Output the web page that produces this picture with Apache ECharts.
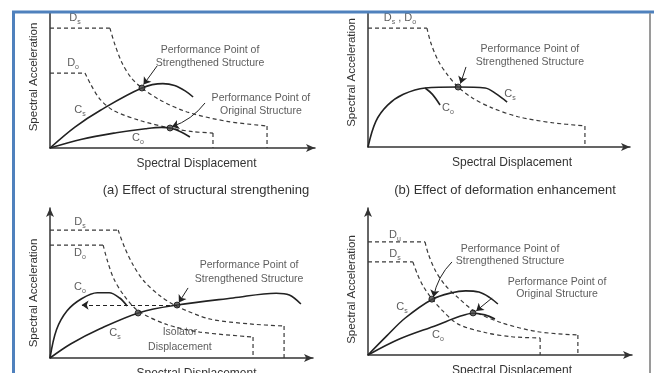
<!DOCTYPE html>
<html>
<head>
<meta charset="utf-8">
<script src="https://cdn.jsdelivr.net/npm/echarts/dist/echarts.min.js"></script>
<style>
html,body{margin:0;padding:0;background:#fff}
#main{width:654px;height:373px}
</style>
</head>
<body>
<div id="main"></div>
<script>
// all panels: x = spectral displacement 0-100, y = spectral acceleration 0-100 (schematic units)

// (a) structural strengthening
var aDemandS = [[22.6,88.2],[24.5,76],[27.2,62.5],[30.5,52],[34.7,44.1],[41.5,35.3],[51.7,26.5],[66.8,19.6],[81.9,16.2]]
var aDemandO = [[13.2,55.1],[15.3,47],[18.9,35.8],[24,27.5],[34,20.2],[45.3,14.7],[54,12],[61.5,11]]
var aCapS = [[0,0],[9.4,15.4],[18.9,27.6],[34.7,44.1],[42.6,47.3],[47,46],[51,42],[54,37.5]]
var aCapO = [[0,0],[12,6.5],[25,11.2],[36,14.2],[42,15.2],[46,14.4],[49.5,11.8],[52.8,8.1]]
var aPoints = [[34.7,44.1],[45.3,14.7]]
var aArrows = [[[40.4,60.3],[35.3,46.6]],[[58.5,33.1],[46,15.6]]]
var aBend = [0, 0.15]
var aLabels = [[9.4,95.6,'D_s'],[8.7,62.5,'D_o'],[11.3,27.9,'C_s'],[33.2,7.4,'C_o']]
var aNotes = [[60.4,67.3,'Performance Point of\nStrengthened Structure'],[79.6,31.6,'Performance Point of\nOriginal Structure']]

// (b) deformation enhancement
var bDemand = [[22.5,88.1],[24,77],[26.9,63.5],[30.5,53],[34.4,44.4],[39.7,36.5],[47.3,29],[57.3,22.4],[70.2,18],[82.8,15.6]]
var bCapS = [[0,0],[3,19],[7.5,31],[13.5,39],[21.8,43.7],[34.4,44.4],[44.7,43.7],[48.8,39.5],[53.1,33.3]]
var bCapO = [[21.8,43.7],[24.6,39],[27.5,31.1]]
var bPoints = [[34.4,44.4]]
var bArrows = [[[37.4,59.3],[35.3,47]]]
var bBend = [0]
var bLabels = [[12.2,95.6,'D_s , D_o'],[54.2,39.3,'C_s'],[30.5,28.9,'C_o']]
var bNotes = [[61.8,67.4,'Performance Point of\nStrengthened Structure']]

// (c) isolation
var cDemandS = [[25.9,85.3],[28.3,74],[31.6,62],[35.6,51.5],[41.8,41.5],[48.3,34.4],[60.8,26],[76,22.7],[89,21.3]]
var cDemandO = [[20.2,75.3],[21.8,65],[24.2,53],[28,42],[33.5,31.5],[44.5,22.3],[57,17.3],[77.2,14]]
var cCapO = [[0,0],[2.5,19],[6.5,31.5],[12,39.5],[18,43.5],[22.5,43.5],[26.5,40],[29.3,34.7]]
var cCapS = [[0,0],[8,9.5],[19,19.5],[34.2,30.4],[48.3,35.3],[69.6,40],[86,43.2],[91,42],[95.4,36]]
var cPoints = [[48.3,35.3],[33.5,30]]
var cArrows = [[[52.5,46.7],[49,37]]]
var cBend = [0]
var cShift = [[48.3,35.3],[12,35.3]]
var cLabels = [[11.4,90.7,'D_s'],[11.4,70,'D_o'],[11.4,47.3,'C_o'],[24.7,16.7,'C_s']]
var cNotes = [[75.7,57.3,'Performance Point of\nStrengthened Structure']]
var cIso = [[49.4,12,'Isolator\nDisplacement']]

// (d) combined
var dDemandU = [[21.6,76.9],[22.8,69],[25.5,57.5],[29.2,47.6],[34.1,39],[40.5,29.6],[50.8,21.8],[64.4,15.8],[79.5,13.6]]
var dDemandS = [[17,63.3],[18.6,55.5],[21,46.5],[24.2,38.3],[28.3,30],[34.1,21],[44.3,15.3],[54.5,12.4],[65.2,11.6]]
var dCapS = [[0,0],[7,12.8],[14,25],[24.2,37.8],[31.8,42.4],[37,43.6],[42,42.8],[46,39.2],[49.2,34.7]]
var dCapO = [[0,0],[12.1,11],[26.1,20.3],[34.8,26.3],[39.8,28.4],[44.3,27.3],[48.1,24.5]]
var dPoints = [[24.2,38],[39.8,28.6]]
var dArrows = [[[31.8,63.3],[24.8,39.5]],[[47,38.8],[41,30]]]
var dBend = [-0.15, 0]
var dLabels = [[10.2,81.6,'D_u'],[10.2,68.5,'D_s'],[12.9,32.7,'C_s'],[26.5,13.6,'C_o']]
var dNotes = [[53.8,68,'Performance Point of\nStrengthened Structure'],[71.6,45.6,'Performance Point of\nOriginal Structure']]

var captions = ['(a) Effect of structural strengthening', '(b) Effect of deformation enhancement']

var ink = '#222'
var txt = '#333'
var font = 'Liberation Sans, Arial, sans-serif'

var grids = [
	{left:50, top:12, width:265, height:136},
	{left:368, top:12, width:262, height:135},
	{left:50, top:208, width:263, height:150},
	{left:368, top:208, width:264, height:147}
]
var xNamePad = [28, 26, 30, 24]
var yNamePad = [[0,0,0,6],[0,0,0,14],[0,20,0,0],[0,16,0,0]]

function toRich(t){
	var parts = t.split(/_(\w)/)
	var out = ''
	for (var i = 0; i < parts.length; i++) {
		if (parts[i] === '') continue
		out += (i % 2 ? '{s|' : '{m|') + parts[i] + '}'
	}
	return out
}

var series = []

function solid(gi, pts){
	series.push({type:'line', xAxisIndex:gi, yAxisIndex:gi, data:pts, smooth:0.35,
		symbol:'none', silent:true, lineStyle:{color:ink, width:1.6}, z:3})
}
function demand(gi, pts){   // plateau + curve + drop to axis
	var first = pts[0], last = pts[pts.length-1]
	var st = {color:'#3a3a3a', width:1.2, type:[4,3]}
	series.push({type:'line', xAxisIndex:gi, yAxisIndex:gi, data:[[0,first[1]],first], symbol:'none', silent:true, lineStyle:st, z:2})
	series.push({type:'line', xAxisIndex:gi, yAxisIndex:gi, data:pts, smooth:0.3, symbol:'none', silent:true, lineStyle:st, z:2})
	series.push({type:'line', xAxisIndex:gi, yAxisIndex:gi, data:[last,[last[0],0]], symbol:'none', silent:true, lineStyle:st, z:2})
}
function points(gi, pts){
	series.push({type:'scatter', xAxisIndex:gi, yAxisIndex:gi, data:pts, symbolSize:6, silent:true,
		itemStyle:{color:'#444', borderColor:'#111', borderWidth:1}, z:5})
}
function arrows(gi, list, bend, dashed){
	series.push({type:'lines', coordinateSystem:'cartesian2d', xAxisIndex:gi, yAxisIndex:gi, silent:true,
		symbol:['none','arrow'], symbolSize:7, z:6,
		data:list.map(function(a, i){ return {coords:a, lineStyle:{curveness:bend[i] || 0}} }),
		lineStyle:{color:ink, width:1, type: dashed ? [4,3] : 'solid', opacity:1}})
}
function labels(gi, list, size, lh){
	series.push({type:'scatter', xAxisIndex:gi, yAxisIndex:gi, symbolSize:1, silent:true,
		itemStyle:{color:'rgba(0,0,0,0)'}, z:7,
		data:list.map(function(l){ return {value:[l[0],l[1]], txt:l[2]} }),
		label:{show:true, position:'inside', align:'center', color:txt, fontSize:size, lineHeight:lh, fontFamily:font,
			formatter:function(p){ return size ? p.data.txt : toRich(p.data.txt) },
			rich:{
				m:{fontSize:11, color:txt, fontFamily:font, lineHeight:15},
				s:{fontSize:7, color:txt, fontFamily:font, verticalAlign:'bottom', lineHeight:15}
			}}})
}

demand(0, aDemandS); demand(0, aDemandO)
solid(0, aCapS); solid(0, aCapO)
points(0, aPoints); arrows(0, aArrows, aBend)
labels(0, aLabels); labels(0, aNotes, 10.5, 13)

demand(1, bDemand)
solid(1, bCapS); solid(1, bCapO)
points(1, bPoints); arrows(1, bArrows, bBend)
labels(1, bLabels); labels(1, bNotes, 10.5, 13)

demand(2, cDemandS); demand(2, cDemandO)
solid(2, cCapO); solid(2, cCapS)
arrows(2, [cShift], [0], true)
points(2, cPoints); arrows(2, cArrows, cBend)
labels(2, cLabels); labels(2, cNotes, 10.5, 14); labels(2, cIso, 10.5, 15)

demand(3, dDemandU); demand(3, dDemandS)
solid(3, dCapS); solid(3, dCapO)
points(3, dPoints); arrows(3, dArrows, dBend)
labels(3, dLabels); labels(3, dNotes, 10.5, 12)

var xAxes = [], yAxes = []
grids.forEach(function(g, i){
	xAxes.push({gridIndex:i, type:'value', min:0, max:100,
		axisLine:{show:true, symbol:['none','arrow'], symbolSize:[6,9], lineStyle:{color:'#333', width:1.5}},
		axisTick:{show:false}, axisLabel:{show:false}, splitLine:{show:false},
		name:'Spectral Displacement', nameLocation:'middle', nameGap:10,
		nameTextStyle:{fontSize:12, color:txt, fontFamily:font, padding:[0,0,0,xNamePad[i]]}})
	yAxes.push({gridIndex:i, type:'value', min:0, max:100,
		axisLine:{show:true, symbol: i < 2 ? 'none' : ['none','arrow'], symbolSize:[6,9], lineStyle:{color:'#333', width:1.5}},
		axisTick:{show:false}, axisLabel:{show:false}, splitLine:{show:false},
		name:'Spectral Acceleration', nameLocation:'middle', nameGap:10,
		nameTextStyle:{fontSize:11.5, color:txt, fontFamily:font, padding:yNamePad[i]}})
})

var chart = echarts.init(document.getElementById('main'))
chart.setOption({
	animation:false,
	backgroundColor:'#fff',
	grid:grids.map(function(g){ return Object.assign({containLabel:false, outerBoundsMode:'none'}, g) }),
	xAxis:xAxes,
	yAxis:yAxes,
	title:[
		{text:captions[0], left:201, top:179, textAlign:'center', textStyle:{fontSize:13, fontWeight:'normal', color:txt, fontFamily:font}},
		{text:captions[1], left:500, top:179, textAlign:'center', textStyle:{fontSize:13, fontWeight:'normal', color:txt, fontFamily:font}}
	],
	graphic:[
		{type:'line', shape:{x1:12, y1:12, x2:654, y2:12}, style:{stroke:'#4f81bd', lineWidth:3}, z:100},
		{type:'line', shape:{x1:13.5, y1:12, x2:13.5, y2:373}, style:{stroke:'#4f81bd', lineWidth:3}, z:100},
		{type:'line', shape:{x1:650, y1:13, x2:650, y2:373}, style:{stroke:'#9a9a9a', lineWidth:2}, z:100}
	],
	series:series
})
</script>
</body>
</html>
